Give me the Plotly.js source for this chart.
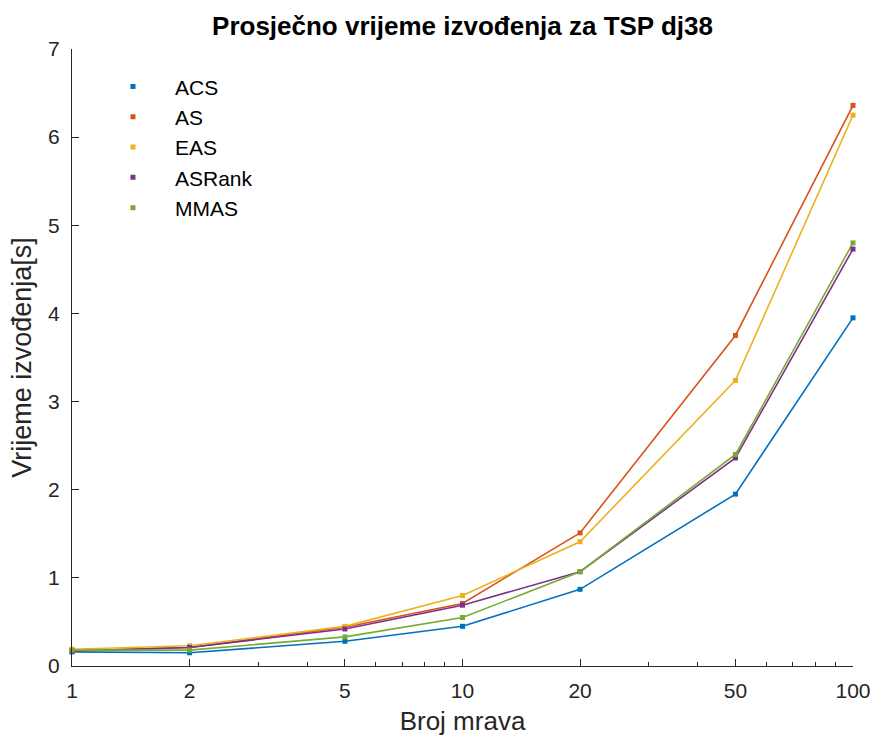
<!DOCTYPE html>
<html>
<head>
<meta charset="utf-8">
<script src="https://cdn.plot.ly/plotly-3.0.1.min.js"></script>
<style>
  html, body { margin: 0; padding: 0; background: #fff; }
  #chart { width: 876px; height: 742px; }
</style>
</head>
<body>
<div id="chart"></div>
<script>
// Number of ants (log axis)
const ants = [1, 2, 5, 10, 20, 50, 100];

// Average run time in seconds per algorithm
const acs    = [0.16, 0.15, 0.28, 0.45, 0.87, 1.95, 3.95];
const as     = [0.17, 0.21, 0.44, 0.71, 1.51, 3.75, 6.36];
const eas    = [0.19, 0.23, 0.45, 0.80, 1.41, 3.24, 6.25];
const asrank = [0.17, 0.21, 0.42, 0.69, 1.07, 2.36, 4.73];
const mmas   = [0.18, 0.18, 0.33, 0.55, 1.07, 2.40, 4.80];

const names  = ['ACS', 'AS', 'EAS', 'ASRank', 'MMAS'];
const series = [acs, as, eas, asrank, mmas];
const colors = ['#0072BD', '#D95319', '#EDB120', '#7E2F8E', '#77AC30'];

const xTicks = [1, 2, 5, 10, 20, 50, 100];
const xTickText = ['1', '2', '5', '10', '20', '50', '100'];
const xMinor = [3, 4, 6, 7, 8, 9, 30, 40, 60, 70, 80, 90];
const yTicks = [0, 1, 2, 3, 4, 5, 6, 7];

// Connecting lines (kept out of the legend)
const lineTraces = series.map((ys, i) => ({
  x: ants,
  y: ys,
  name: names[i],
  type: 'scatter',
  mode: 'lines',
  showlegend: false,
  line: { color: colors[i], width: 1.6 },
  cliponaxis: false
}));

// Point markers; these carry the legend entries (marker only)
const markerTraces = series.map((ys, i) => ({
  x: ants,
  y: ys,
  name: names[i],
  legendgroup: names[i],
  type: 'scatter',
  mode: 'markers',
  marker: { color: colors[i], symbol: 'square', size: 5 },
  cliponaxis: false
}));

const font = 'Liberation Sans, Arial, Helvetica, sans-serif';
const axisColor = '#262626';

const layout = {
  width: 876,
  height: 742,
  margin: { l: 72, r: 23, t: 49, b: 76 },
  paper_bgcolor: '#fff',
  plot_bgcolor: '#fff',
  font: { family: font, color: axisColor, size: 21 },
  showlegend: true,
  title: {
    text: '<b>Prosječno vrijeme izvođenja za TSP dj38</b>',
    font: { family: font, size: 26, color: '#000' },
    x: 0.528, xanchor: 'center',
    y: 0.965, yanchor: 'middle'
  },
  xaxis: {
    type: 'log',
    range: [0, 2],
    tickmode: 'array',
    tickvals: xTicks,
    ticktext: xTickText,
    ticks: 'inside',
    ticklen: 7,
    tickwidth: 1,
    tickcolor: axisColor,
    minor: { tickmode: 'array', tickvals: xMinor, ticks: 'inside', ticklen: 4, tickcolor: axisColor, showgrid: false },
    showline: true,
    linecolor: axisColor,
    linewidth: 1,
    showgrid: false,
    zeroline: false,
    ticklabelstandoff: 6,
    tickfont: { size: 21, color: axisColor },
    title: { text: 'Broj mrava', font: { size: 26, color: axisColor }, standoff: 10 }
  },
  yaxis: {
    range: [0, 7],
    tickmode: 'array',
    tickvals: yTicks,
    ticks: 'inside',
    ticklen: 7,
    tickwidth: 1,
    tickcolor: axisColor,
    showline: true,
    linecolor: axisColor,
    linewidth: 1,
    showgrid: false,
    zeroline: false,
    ticklabelstandoff: 7,
    tickfont: { size: 21, color: axisColor },
    title: { text: 'Vrijeme izvođenja[s]', font: { size: 27, color: axisColor }, standoff: 8 }
  },
  legend: {
    x: 0.0243, xanchor: 'left',
    y: 0.972, yanchor: 'top',
    bgcolor: 'rgba(0,0,0,0)',
    borderwidth: 0,
    font: { size: 21, color: '#000' },
    traceorder: 'normal',
    itemwidth: 74
  }
};

Plotly.newPlot('chart', lineTraces.concat(markerTraces), layout, { staticPlot: true, displayModeBar: false });
</script>
</body>
</html>
